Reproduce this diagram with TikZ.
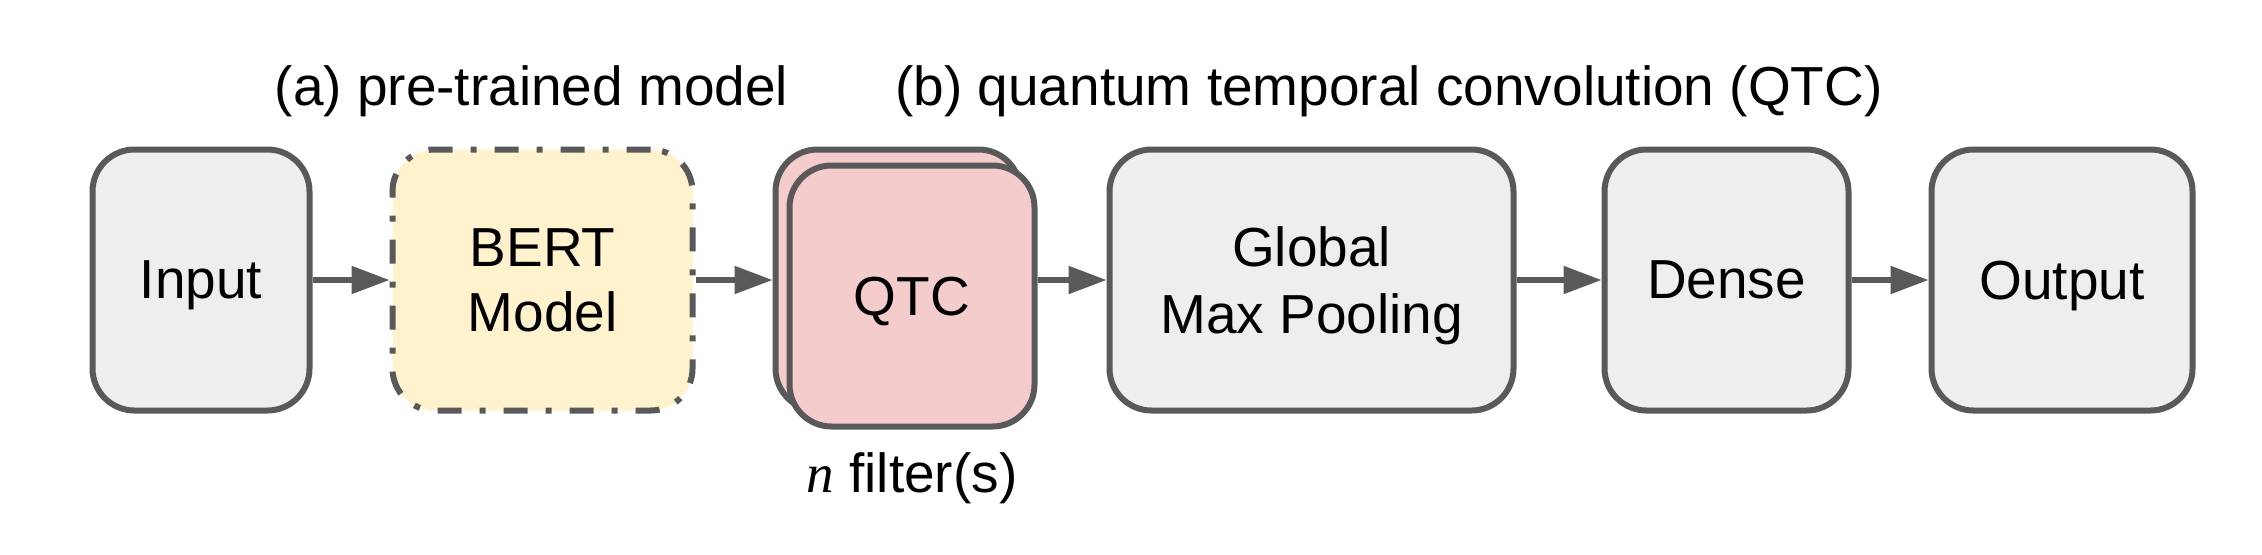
\documentclass[tikz,border=0pt]{standalone}
\usepackage{fontspec}
\setmainfont{Liberation Sans}
\newfontfamily\timesfam{Liberation Serif}
\usetikzlibrary{arrows.meta}
\definecolor{strokegray}{HTML}{595959}
\definecolor{boxgray}{HTML}{EEEEEE}
\definecolor{bertyellow}{HTML}{FFF2CC}
\definecolor{qtcpink}{HTML}{F4CCCC}
\begin{document}
\begin{tikzpicture}[x=0.5pt,y=-0.5pt,
  every node/.style={font=\fontsize{27.5}{32.5}\selectfont},
  blockbox/.style={draw=strokegray, line width=3pt, rounded corners=21pt,
    fill=boxgray, minimum height=130.5pt, align=center, text depth=0pt, inner sep=0pt},
  bertbox/.style={blockbox, fill=bertyellow, line cap=butt,
    dash pattern=on 12pt off 9pt on 3pt off 9pt},
  qtcbox/.style={blockbox, fill=qtcpink},
  flow/.style={draw=strokegray, line width=2.6pt,
    -{Triangle[length=19pt,width=13.5pt]}},
  caption/.style={anchor=base, inner sep=0pt}
]
\useasboundingbox (0,0) rectangle (2262,554);

\node[blockbox, minimum width=108.5pt] (in) at (201,280) {Input};
\node[bertbox, minimum width=150pt] (bert) at (542.5,280) {BERT\\Model};
\node[qtcbox, minimum width=122.5pt] (qtcb) at (898,280) {};
\node[qtcbox, minimum width=122.5pt] (qtcf) at (912,296) {QTC};
\node[blockbox, minimum width=202pt,
  font=\fontsize{27.5}{33.5}\selectfont] (gmp) at (1311.5,280) {Global\\Max Pooling};
\node[blockbox, minimum width=122pt] (dense) at (1726.5,280) {Dense};
\node[blockbox, minimum width=130.5pt] (out) at (2062,280) {Output};

\node[caption] (capa) at (531.5,105) {(a) pre-trained model};
\node[caption] (capb) at (1389,105) {(b) quantum temporal convolution (QTC)};
\node[caption] (capn) at (912,492) {{\timesfam\itshape n} filter(s)};

\draw[flow] (in.east) -- (bert.west);
\draw[flow] (bert.east) -- (qtcb.west);
\draw[flow] (qtcf.east |- gmp.west) -- (gmp.west);
\draw[flow] (gmp.east) -- (dense.west);
\draw[flow] (dense.east) -- (out.west);
\end{tikzpicture}
\end{document}
